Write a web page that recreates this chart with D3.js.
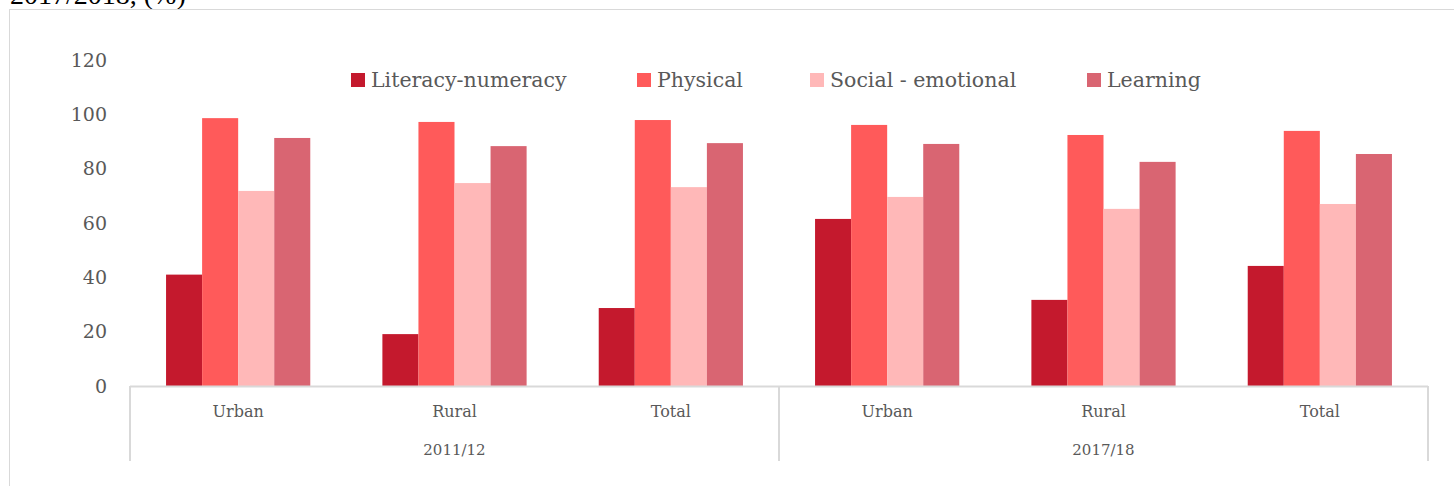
<!DOCTYPE html>
<html>
<head>
<meta charset="utf-8">
<script src="https://cdnjs.cloudflare.com/ajax/libs/d3/7.8.5/d3.min.js"></script>
<style>
  body { margin: 0; background: #fff; }
  svg { display: block; }
</style>
</head>
<body>
<div id="chart"></div>
<script>
// Data
var years = ["2011/12", "2017/18"];
var places = ["Urban", "Rural", "Total"];
var seriesNames = ["Literacy-numeracy", "Physical", "Social - emotional", "Learning"];
var colors = ["#c4192d", "#ff5a5a", "#ffb8b8", "#d96572"];
var literacy = [41, 19.1, 28.7, 61.5, 31.7, 44.2];
var physical = [98.6, 97.2, 97.9, 96.1, 92.4, 93.9];
var social = [71.8, 74.7, 73.2, 69.6, 65.2, 67.0];
var learning = [91.3, 88.3, 89.4, 89.1, 82.5, 85.4];
var yTicks = [0, 20, 40, 60, 80, 100, 120];

var width = 1454, height = 486;
var fontFamily = "'DejaVu Serif', Georgia, serif";

// one key per category, e.g. "2011/12|Urban"
var categories = [];
years.forEach(function(y) {
    places.forEach(function(p) { categories.push(y + "|" + p); });
});
var seriesValues = [literacy, physical, social, learning];

var svg = d3.select("#chart").append("svg")
    .attr("width", width)
    .attr("height", height);

// title, mostly cut off at the top (as in the source image)
svg.append("text")
    .attr("x", 10)
    .attr("y", 4)
    .text("2017/2018, (%)")
    .style("font", "28px 'Liberation Serif', serif")
    .style("fill", "#000");

// chart frame
svg.append("rect")
    .attr("x", 9.5)
    .attr("y", 9.5)
    .attr("width", 1500)
    .attr("height", 600)
    .attr("fill", "none")
    .attr("stroke", "#d9d9d9");

// scales
var x0 = d3.scaleBand().domain(categories).range([130, 1428]);
var x1 = d3.scaleBand().domain(seriesNames).range([0, x0.bandwidth()]).paddingOuter(1);
var y = d3.scaleLinear().domain([0, 120]).range([386, 60]);

// y labels
svg.append("g").selectAll("text")
    .data(yTicks)
    .enter().append("text")
    .attr("x", 107)
    .attr("y", function(d) { return y(d); })
    .attr("dy", "0.35em")
    .attr("text-anchor", "end")
    .text(function(d) { return d; })
    .style("font", "19px " + fontFamily)
    .style("fill", "#595959");

// bars
seriesNames.forEach(function(name, si) {
    svg.append("g").selectAll("rect")
        .data(seriesValues[si])
        .enter().append("rect")
        .attr("x", function(d, i) { return x0(categories[i]) + x1(name); })
        .attr("y", function(d) { return y(d); })
        .attr("width", x1.bandwidth())
        .attr("height", function(d) { return y(0) - y(d); })
        .attr("fill", colors[si]);
});

// x axis line
svg.append("line")
    .attr("x1", x0.range()[0]).attr("x2", x0.range()[1])
    .attr("y1", y(0) + 0.5).attr("y2", y(0) + 0.5)
    .attr("stroke", "#d9d9d9").attr("stroke-width", 2);

// group separators
var yearScale = d3.scaleBand().domain(years).range([130, 1428]);
var sepX = years.map(function(d) { return yearScale(d); }).concat([yearScale.range()[1]]);
svg.append("g").selectAll("line")
    .data(sepX)
    .enter().append("line")
    .attr("x1", function(d) { return d; }).attr("x2", function(d) { return d; })
    .attr("y1", y(0)).attr("y2", 461)
    .attr("stroke", "#d9d9d9").attr("stroke-width", 2);

// category labels
svg.append("g").selectAll("text")
    .data(categories)
    .enter().append("text")
    .attr("x", function(d) { return x0(d) + x0.bandwidth() / 2; })
    .attr("y", 417)
    .attr("text-anchor", "middle")
    .text(function(d) { return d.split("|")[1]; })
    .style("font", "16px " + fontFamily)
    .style("fill", "#595959");

// year labels
svg.append("g").selectAll("text")
    .data(years)
    .enter().append("text")
    .attr("x", function(d) { return yearScale(d) + yearScale.bandwidth() / 2; })
    .attr("y", 455)
    .attr("text-anchor", "middle")
    .text(function(d) { return d; })
    .style("font", "15px " + fontFamily)
    .style("fill", "#595959");

// legend
var legendX = [351, 637, 810, 1087];
var legend = svg.append("g").selectAll("g")
    .data(seriesNames)
    .enter().append("g")
    .attr("transform", function(d, i) { return "translate(" + legendX[i] + ",73)"; });
legend.append("rect")
    .attr("width", 14).attr("height", 14)
    .attr("fill", function(d, i) { return colors[i]; });
legend.append("text")
    .attr("x", 20)
    .attr("y", 14)
    .text(function(d) { return d; })
    .style("font", "20.5px " + fontFamily)
    .style("fill", "#595959");
</script>
</body>
</html>
